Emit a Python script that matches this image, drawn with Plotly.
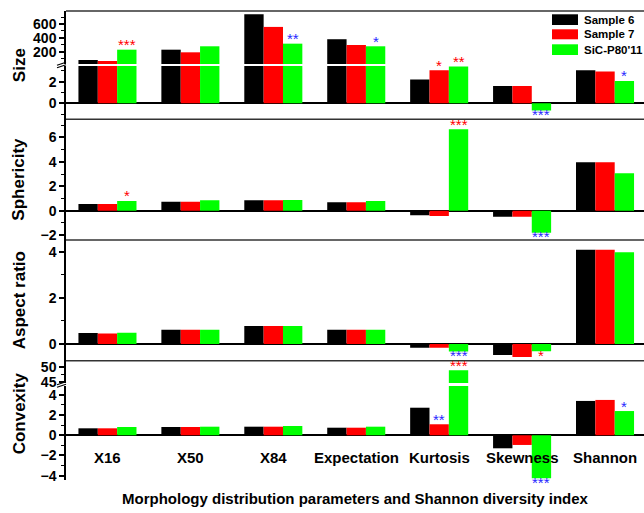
import plotly.graph_objects as go

# ---- data -------------------------------------------------------------
categories = ["X16", "X50", "X84", "Expectation", "Kurtosis", "Skewness", "Shannon"]
series_names = ["Sample 6", "Sample 7", "SiC-P80'11"]

size_s6 = [80, 229, 742, 380, 2.19, 1.59, 3.05]
size_s7 = [65, 191, 558, 297, 3.05, 1.59, 2.95]
size_sic = [229, 278, 316, 278, 3.40, -0.67, 2.07]

sph_s6 = [0.55, 0.74, 0.85, 0.70, -0.38, -0.49, 3.97]
sph_s7 = [0.55, 0.74, 0.85, 0.70, -0.43, -0.49, 3.97]
sph_sic = [0.80, 0.85, 0.88, 0.80, 6.67, -1.80, 3.07]

asp_s6 = [0.47, 0.62, 0.78, 0.62, -0.17, -0.48, 4.10]
asp_s7 = [0.45, 0.62, 0.78, 0.62, -0.17, -0.57, 4.10]
asp_sic = [0.49, 0.62, 0.78, 0.62, -0.33, -0.32, 3.99]

conv_s6 = [0.69, 0.82, 0.85, 0.75, 2.73, -1.29, 3.40]
conv_s7 = [0.69, 0.82, 0.85, 0.75, 1.09, -0.96, 3.50]
conv_sic = [0.82, 0.85, 0.92, 0.85, 48.9, -4.26, 2.40]

# significance marks: (category index, series index, stars, colour key)
size_marks = [(0, 2, "***", "r"), (2, 2, "**", "b"), (3, 2, "*", "b"), (4, 1, "*", "r"),
              (4, 2, "**", "r"), (5, 2, "***", "b"), (6, 2, "*", "b")]
sph_marks = [(0, 2, "*", "r"), (4, 2, "***", "r"), (5, 2, "***", "b")]
asp_marks = [(4, 2, "***", "b"), (5, 2, "*", "r")]
conv_marks = [(4, 1, "**", "b"), (4, 2, "***", "r"), (5, 2, "***", "b"), (6, 2, "*", "b")]

# ---- styling ------------------------------------------------------------
W, H = 644, 513
ML, MT, MB = 66, 11, 33
PW, PH = W - ML, H - MT - MB
FONT = "Arial, Liberation Sans, sans-serif"
bar_colors = ["#000000", "#FF0000", "#00FF00"]
star_colors = {"r": "#FF0000", "b": "#2828FF"}


def py(px):
    """pixel row -> paper y"""
    return (MT + PH - px) / PH


def pxx(px):
    """pixel column -> paper x"""
    return (px - ML) / PW


# panels: (axis name, pixel top, pixel bottom, range, dtick, minor dtick, show zero line)
panels = {
    "y": (11, 64, [22, 788], 200, 100, False),          # size, upper segment
    "y2": (66, 119.3, [-1.48, 3.45], 2, 1, True),        # size, lower segment
    "y3": (119.3, 240, [-2.40, 7.49], 2, 1, True),       # sphericity
    "y4": (240, 360.7, [-0.73, 4.52], 2, 1, True),       # aspect ratio
    "y5": (360.7, 383, [44.78, 51.92], 5, 2.5, False),   # convexity, upper segment
    "y6": (386, 480, [-4.43, 4.88], 2, 1, True),         # convexity, lower segment
}

fig = go.Figure()

groups = [
    (["y", "y2"], [size_s6, size_s7, size_sic]),
    (["y3"], [sph_s6, sph_s7, sph_sic]),
    (["y4"], [asp_s6, asp_s7, asp_sic]),
    (["y5", "y6"], [conv_s6, conv_s7, conv_sic]),
]
xs = list(range(len(categories)))
for axes, data in groups:
    for ax in axes:
        for i, vals in enumerate(data):
            fig.add_trace(go.Bar(
                x=xs, y=vals, name=series_names[i], xaxis="x", yaxis=ax,
                marker=dict(color=bar_colors[i], line=dict(width=0)),
                showlegend=False,
            ))

layout = dict(
    width=W, height=H,
    margin=dict(l=ML, r=0, t=MT, b=MB, pad=0),
    paper_bgcolor="white", plot_bgcolor="white",
    barmode="group", bargap=0.3, bargroupgap=0,
    xaxis=dict(range=[-0.5, 6.47], anchor="y6", showticklabels=False, ticks="",
               showline=False, showgrid=False, zeroline=False, fixedrange=True),
)
for name, (top, bot, rng, dt, mdt, zl) in panels.items():
    key = "yaxis" if name == "y" else "yaxis" + name[1:]
    layout[key] = dict(
        domain=[py(bot), py(top)], range=rng, anchor="x",
        tick0=0, dtick=dt, ticks="outside", ticklen=5, tickwidth=1.5, tickcolor="#000",
        minor=dict(dtick=mdt, tick0=0, ticks="outside", ticklen=3, tickwidth=1.2, tickcolor="#000"),
        showline=True, linecolor="#000", linewidth=1.5, showgrid=False,
        zeroline=zl, zerolinecolor="#000", zerolinewidth=1.5,
        tickfont=dict(family=FONT, size=14, color="#000", weight="bold"),
        fixedrange=True,
    )
fig.update_layout(**layout)

# panel frame lines
shapes = []
for top in [11, 119.3, 240, 360.7]:
    shapes.append(dict(type="line", xref="paper", yref="paper", x0=0, x1=1,
                       y0=py(top), y1=py(top), line=dict(color="#333", width=1.6)))
# axis break marks
for yb in [65, 384.5]:
    for d in (-1.3, 1.3):
        shapes.append(dict(type="line", xref="paper", yref="paper",
                           x0=pxx(57), x1=pxx(66), y0=py(yb + d + 1.5), y1=py(yb + d - 1.5),
                           line=dict(color="#000", width=1.2)))
# legend swatches
leg_rows = [(14.3, 25), (29.3, 39.3), (44.3, 55)]
for (t, b), c in zip(leg_rows, bar_colors):
    shapes.append(dict(type="rect", xref="paper", yref="paper",
                       x0=pxx(552), x1=pxx(578), y0=py(b), y1=py(t),
                       fillcolor=c, line=dict(width=0)))

annotations = []
for (t, b), nm in zip(leg_rows, series_names):
    annotations.append(dict(text=nm, xref="paper", yref="paper", x=pxx(582), y=py((t + b) / 2),
                            xanchor="left", yanchor="middle", showarrow=False,
                            font=dict(family=FONT, size=11.5, color="#000", weight="bold")))

# axis titles
for title, top, bot in [("Size", 11, 119.3), ("Sphericity", 119.3, 240),
                        ("Aspect ratio", 240, 360.7), ("Convexity", 360.7, 466)]:
    annotations.append(dict(text=title, xref="paper", yref="paper", x=pxx(19), y=py((top + bot) / 2),
                            xanchor="center", yanchor="middle", textangle=-90, showarrow=False,
                            font=dict(family=FONT, size=17, color="#000", weight="bold")))

# category labels
for i, c in enumerate(categories):
    annotations.append(dict(text=c, xref="x", yref="paper", x=i, y=py(457),
                            xanchor="center", yanchor="middle", showarrow=False,
                            font=dict(family=FONT, size=15, color="#000", weight="bold")))

annotations.append(dict(text="Morphology distribution parameters and Shannon diversity index",
                        xref="paper", yref="paper", x=0.5, y=py(498), xanchor="center",
                        yanchor="middle", showarrow=False,
                        font=dict(family=FONT, size=15, color="#000", weight="bold")))

# significance stars, placed at the end of the marked bar
offsets = [-0.7 / 3, 0, 0.7 / 3]


def add_marks(marks, data, axis_for):
    for ci, si, txt, col in marks:
        v = data[si][ci]
        ax = axis_for(v)
        above = v >= 0
        annotations.append(dict(
            text=txt, xref="x", yref=ax, x=ci + offsets[si], y=v,
            xanchor="center", yanchor="middle", showarrow=False,
            yshift=5 if above else -4,
            font=dict(family=FONT, size=15, color=star_colors[col]),
        ))


add_marks(size_marks, [size_s6, size_s7, size_sic], lambda v: "y" if v > 22 else "y2")
add_marks(sph_marks, [sph_s6, sph_s7, sph_sic], lambda v: "y3")
add_marks(asp_marks, [asp_s6, asp_s7, asp_sic], lambda v: "y4")
add_marks(conv_marks, [conv_s6, conv_s7, conv_sic], lambda v: "y5" if v > 44.78 else "y6")

fig.update_layout(shapes=shapes, annotations=annotations)
fig.write_html("out.html")
